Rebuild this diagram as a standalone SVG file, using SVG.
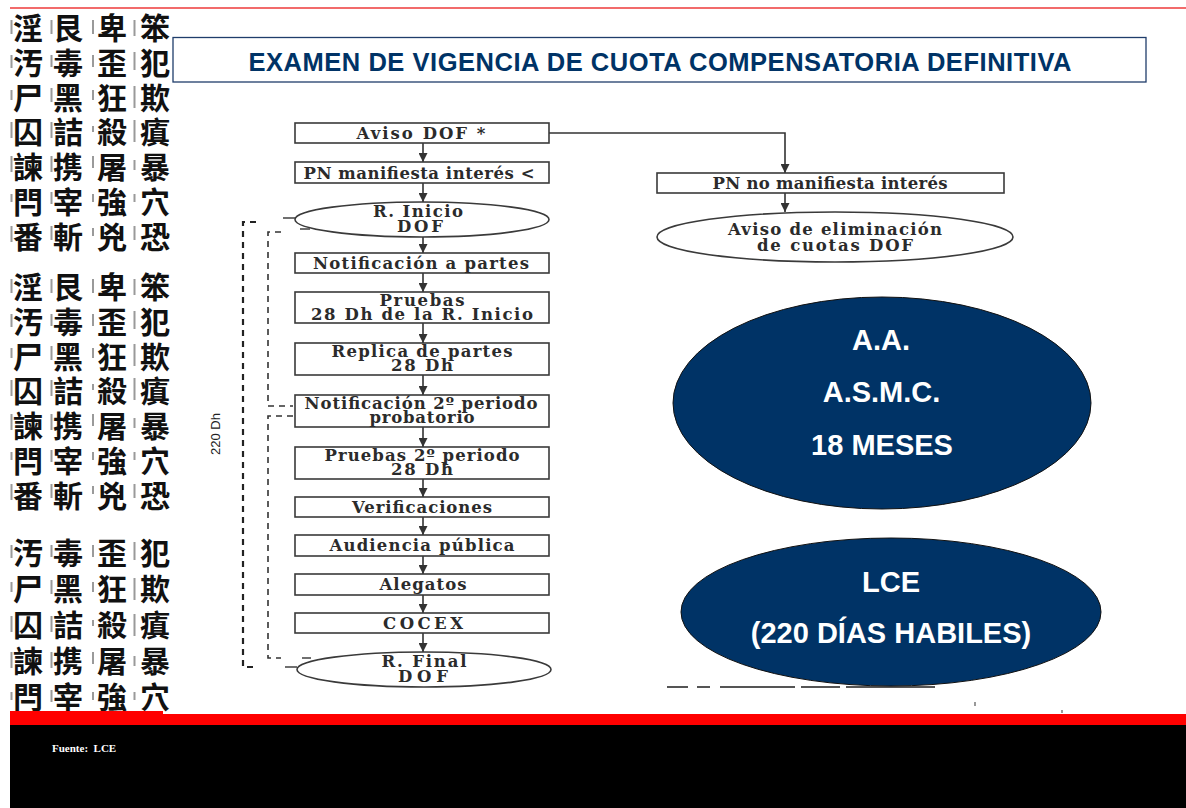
<svg xmlns="http://www.w3.org/2000/svg" width="1186" height="808" viewBox="0 0 1186 808">
<defs>
<style>
.cjk{font-family:"Noto Sans CJK TC","Noto Sans CJK JP",sans-serif;font-weight:700;font-size:30px;fill:#111;writing-mode:vertical-rl}
.g1{letter-spacing:4.7px}
.g3{letter-spacing:6px}
.ann{fill:#9a9a9a}
.box{fill:#fff;stroke:#3a3a3a;stroke-width:1.6}
.ft{font-family:"DejaVu Serif","Liberation Serif",serif;font-weight:700;font-size:16.5px;fill:#2b2b2b;text-anchor:middle}
.conn{stroke:#333;stroke-width:1.6;fill:none;marker-end:url(#ah)}
.plain{stroke:#333;stroke-width:1.4;fill:none}
.dashO{stroke:#222;stroke-width:2.2;fill:none;stroke-dasharray:6 5}
.dashI{stroke:#333;stroke-width:1.6;fill:none;stroke-dasharray:6 5}
.navy{fill:#003366;stroke:#111;stroke-width:1}
.wt{font-family:"Liberation Sans",Arial,sans-serif;font-weight:700;font-size:29px;fill:#fff;text-anchor:middle}
</style>
<marker id="ah" viewBox="0 0 10 10" refX="10" refY="5" markerWidth="9" markerHeight="9" markerUnits="userSpaceOnUse" orient="auto">
<path d="M0,0 L10,5 L0,10 z" fill="#333"/>
</marker>
</defs>
<rect x="0" y="0" width="1186" height="808" fill="#fff"/>

<g id="strip">
<g class="cjk">
<text class="g1" x="155" y="13">笨犯欺瘨暴穴恐</text>
<text class="g1" x="112" y="13">卑歪狂殺屠強兇</text>
<text class="g1" x="68" y="13">艮毒黑詰携宰斬</text>
<text class="g1" x="28" y="13">淫汚尸囚諫閂番</text>
<text class="g1" x="155" y="272">笨犯欺瘨暴穴恐</text>
<text class="g1" x="112" y="272">卑歪狂殺屠強兇</text>
<text class="g1" x="68" y="272">艮毒黑詰携宰斬</text>
<text class="g1" x="28" y="272">淫汚尸囚諫閂番</text>
<text class="g3" x="155" y="538">犯欺瘨暴穴</text>
<text class="g3" x="112" y="538">歪狂殺屠強</text>
<text class="g3" x="68" y="538">毒黑詰携宰</text>
<text class="g3" x="28" y="538">汚尸囚諫閂</text>
</g>
<g class="ann">
<rect x="10.5" y="20" width="2" height="14"/><rect x="50.5" y="20" width="2" height="14"/><rect x="92" y="20" width="2" height="14"/><rect x="133.5" y="20" width="2" height="16"/>
<rect x="10.5" y="55" width="2" height="13"/><rect x="50.5" y="55" width="2" height="12"/><rect x="92" y="55" width="2" height="12"/><rect x="133.5" y="52" width="2" height="18"/>
<rect x="10.5" y="90" width="2" height="10"/><rect x="50.5" y="88" width="2" height="14"/><rect x="92" y="90" width="2" height="10"/><rect x="133.5" y="86" width="2" height="22"/>
<rect x="10.5" y="122" width="2" height="16"/><rect x="50.5" y="122" width="2" height="16"/><rect x="92" y="126" width="2" height="6"/><rect x="133.5" y="120" width="2" height="22"/>
<rect x="10.5" y="156" width="2" height="16"/><rect x="50.5" y="156" width="2" height="16"/><rect x="92" y="156" width="2" height="12"/><rect x="133.5" y="160" width="2" height="10"/>
<rect x="10.5" y="194" width="2" height="8"/><rect x="50.5" y="192" width="2" height="12"/><rect x="92" y="194" width="2" height="8"/><rect x="133.5" y="194" width="2" height="8"/>
<rect x="10.5" y="226" width="2" height="16"/><rect x="50.5" y="226" width="2" height="14"/><rect x="92" y="228" width="2" height="8"/><rect x="133.5" y="226" width="2" height="14"/>
<rect x="10.5" y="279" width="2" height="14"/><rect x="50.5" y="279" width="2" height="14"/><rect x="92" y="279" width="2" height="14"/><rect x="133.5" y="279" width="2" height="16"/>
<rect x="10.5" y="314" width="2" height="13"/><rect x="50.5" y="314" width="2" height="12"/><rect x="92" y="314" width="2" height="12"/><rect x="133.5" y="311" width="2" height="18"/>
<rect x="10.5" y="348" width="2" height="10"/><rect x="50.5" y="346" width="2" height="14"/><rect x="92" y="348" width="2" height="10"/><rect x="133.5" y="344" width="2" height="22"/>
<rect x="10.5" y="380" width="2" height="16"/><rect x="50.5" y="380" width="2" height="16"/><rect x="92" y="384" width="2" height="6"/><rect x="133.5" y="378" width="2" height="22"/>
<rect x="10.5" y="414" width="2" height="16"/><rect x="50.5" y="414" width="2" height="16"/><rect x="92" y="414" width="2" height="12"/><rect x="133.5" y="418" width="2" height="10"/>
<rect x="10.5" y="452" width="2" height="8"/><rect x="50.5" y="450" width="2" height="12"/><rect x="92" y="452" width="2" height="8"/><rect x="133.5" y="452" width="2" height="8"/>
<rect x="10.5" y="484" width="2" height="16"/><rect x="50.5" y="484" width="2" height="14"/><rect x="92" y="486" width="2" height="8"/><rect x="133.5" y="484" width="2" height="14"/>
<rect x="10.5" y="545" width="2" height="13"/><rect x="50.5" y="545" width="2" height="12"/><rect x="92" y="545" width="2" height="12"/><rect x="133.5" y="542" width="2" height="18"/>
<rect x="10.5" y="582" width="2" height="10"/><rect x="50.5" y="580" width="2" height="14"/><rect x="92" y="582" width="2" height="10"/><rect x="133.5" y="578" width="2" height="22"/>
<rect x="10.5" y="616" width="2" height="16"/><rect x="50.5" y="616" width="2" height="16"/><rect x="92" y="620" width="2" height="6"/><rect x="133.5" y="614" width="2" height="22"/>
<rect x="10.5" y="652" width="2" height="16"/><rect x="50.5" y="652" width="2" height="16"/><rect x="92" y="652" width="2" height="12"/><rect x="133.5" y="656" width="2" height="10"/>
<rect x="10.5" y="692" width="2" height="8"/><rect x="50.5" y="690" width="2" height="12"/><rect x="92" y="692" width="2" height="8"/><rect x="133.5" y="692" width="2" height="8"/>
</g>
</g>

<line x1="10" y1="8" x2="1186" y2="8" stroke="#ee3a3a" stroke-width="1.5"/>

<g id="title">
<rect x="173" y="37.5" width="973" height="44.5" fill="#fff" stroke="#1f3d6b" stroke-width="1.3"/>
<text x="660" y="71" font-family="Liberation Sans, Arial, sans-serif" font-weight="700" font-size="25.5" fill="#003366" text-anchor="middle" textLength="823">EXAMEN DE VIGENCIA DE CUOTA COMPENSATORIA DEFINITIVA</text>
</g>

<g id="connectors">
<line class="conn" x1="423" y1="143" x2="423" y2="162"/>
<line class="conn" x1="423" y1="183" x2="423" y2="202"/>
<line class="conn" x1="423" y1="237" x2="423" y2="253"/>
<line class="conn" x1="423" y1="273" x2="423" y2="292"/>
<line class="conn" x1="423" y1="323" x2="423" y2="343"/>
<line class="conn" x1="423" y1="375" x2="423" y2="395"/>
<line class="conn" x1="423" y1="427" x2="423" y2="447"/>
<line class="conn" x1="423" y1="479" x2="423" y2="497"/>
<line class="conn" x1="423" y1="517" x2="423" y2="535"/>
<line class="conn" x1="423" y1="556" x2="423" y2="574"/>
<line class="conn" x1="423" y1="595" x2="423" y2="613"/>
<line class="conn" x1="423" y1="633" x2="423" y2="652"/>
<path class="conn" d="M549,133 H785 V173"/>
<line class="conn" x1="785" y1="193" x2="785" y2="212"/>
<path class="dashO" d="M256,222 H243 V667 H254"/>
<line class="plain" x1="283" y1="218" x2="296" y2="218"/>
<line class="plain" x1="285" y1="667" x2="297" y2="667"/>
<path class="dashI" d="M281,232 H268 V406 H293"/>
<path class="dashI" d="M293,416 H268 V658 H281"/>
<line class="plain" x1="300" y1="229" x2="310" y2="229"/>
<line class="plain" x1="302" y1="658" x2="311" y2="658"/>
</g>

<text x="220" y="434" transform="rotate(-90 220 434)" font-family="Liberation Sans, Arial, sans-serif" font-size="13" fill="#222" text-anchor="middle">220 Dh</text>

<g id="n-aviso"><rect class="box" x="295" y="123" width="254" height="20"/><text class="ft" x="421" y="139" textLength="129">Aviso DOF *</text></g>
<g id="n-pn"><rect class="box" x="295" y="162" width="254" height="21"/><text class="ft" x="419" y="178.5" textLength="231">PN manifiesta interés &lt;</text></g>
<g id="n-inicio"><ellipse class="box" cx="422" cy="219.5" rx="127" ry="17.5"/><text class="ft"><tspan x="418" y="217" textLength="90">R. Inicio</tspan><tspan x="420" y="231.5" textLength="46">DOF</tspan></text></g>
<g id="n-notif"><rect class="box" x="295" y="253" width="254" height="20"/><text class="ft" x="421" y="268.5" textLength="216">Notificación a partes</text></g>
<g id="n-pruebas"><rect class="box" x="295" y="292" width="254" height="31"/><text class="ft"><tspan x="422" y="305.5" textLength="85">Pruebas</tspan><tspan x="422" y="319.5" textLength="222">28 Dh de la R. Inicio</tspan></text></g>
<g id="n-replica"><rect class="box" x="295" y="343" width="254" height="32"/><text class="ft"><tspan x="422" y="357" textLength="181">Replica de partes</tspan><tspan x="422" y="371" textLength="62">28 Dh</tspan></text></g>
<g id="n-notif2"><rect class="box" x="295" y="395" width="254" height="32"/><text class="ft"><tspan x="421" y="409" textLength="233">Notificación 2º periodo</tspan><tspan x="422" y="423" textLength="105">probatorio</tspan></text></g>
<g id="n-pruebas2"><rect class="box" x="295" y="447" width="254" height="32"/><text class="ft"><tspan x="422" y="461" textLength="195">Pruebas 2º periodo</tspan><tspan x="422" y="475" textLength="62">28 Dh</tspan></text></g>
<g id="n-verif"><rect class="box" x="295" y="497" width="254" height="20"/><text class="ft" x="422" y="512.5" textLength="140">Verificaciones</text></g>
<g id="n-audiencia"><rect class="box" x="295" y="535" width="254" height="21"/><text class="ft" x="422" y="551" textLength="185">Audiencia pública</text></g>
<g id="n-alegatos"><rect class="box" x="295" y="574" width="254" height="21"/><text class="ft" x="423" y="590" textLength="87">Alegatos</text></g>
<g id="n-cocex"><rect class="box" x="295" y="613" width="254" height="20"/><text class="ft" x="423" y="628.5" textLength="80">COCEX</text></g>
<g id="n-final"><ellipse class="box" cx="424" cy="669.5" rx="127" ry="17.5"/><text class="ft"><tspan x="424" y="667" textLength="85">R. Final</tspan><tspan x="423" y="681.5" textLength="50">DOF</tspan></text></g>

<g id="n-pnno"><rect class="box" x="657" y="173" width="347" height="20"/><text class="ft" x="830" y="188.5" textLength="235">PN no manifiesta interés</text></g>
<g id="n-elim"><ellipse class="box" cx="835" cy="237" rx="178" ry="25"/><text class="ft"><tspan x="835" y="235" textLength="214">Aviso de eliminación</tspan><tspan x="835" y="250.5" textLength="156">de cuotas DOF</tspan></text></g>

<g id="n-aa"><ellipse class="navy" cx="882" cy="403" rx="209" ry="106"/><text class="wt" x="881" y="350">A.A.</text><text class="wt" x="881.5" y="402">A.S.M.C.</text><text class="wt" x="882" y="455">18 MESES</text></g>

<g id="scan-marks" stroke="#555" stroke-width="2.2" fill="none">
<path d="M667,687 H688 M697,687 H710 M720,687 H795 M801,687 H840 M846,687 H935"/>
<path d="M975,702 v4 M1062,710 v3" stroke-width="1.2"/>
</g>

<g id="n-lce"><ellipse class="navy" cx="891" cy="612" rx="210" ry="74"/><text class="wt" x="891" y="592">LCE</text><text class="wt" x="891" y="643">(220 DÍAS HABILES)</text></g>

<g id="footer">
<rect x="10" y="711" width="153" height="4" fill="#ff0000"/>
<rect x="10" y="714" width="1176" height="11" fill="#ff0000"/>
<rect x="10" y="725" width="1176" height="83" fill="#000"/>
<text x="52" y="752" font-family="Liberation Serif, Times New Roman, serif" font-weight="700" font-size="11" fill="#fff" style="white-space:pre" xml:space="preserve">Fuente:  LCE</text>
</g>
</svg>
